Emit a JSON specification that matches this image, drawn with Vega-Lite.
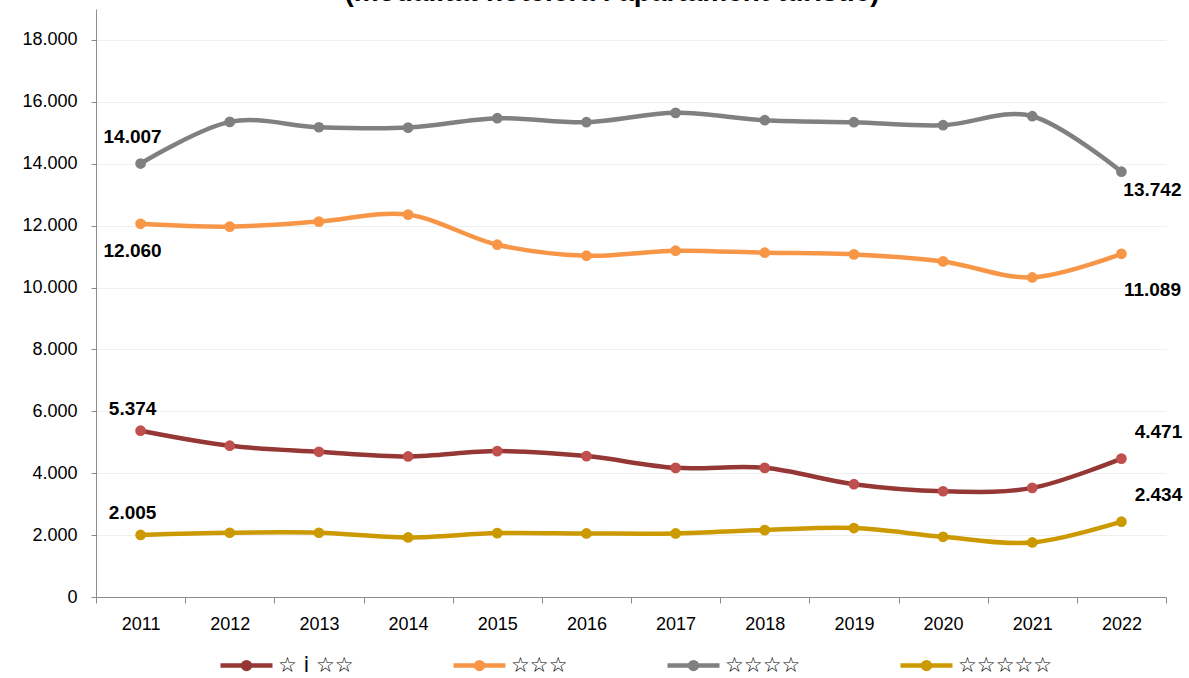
{
  "$schema": "https://vega.github.io/schema/vega-lite/v6.json",
  "width": 1070,
  "height": 588,
  "autosize": {"type": "none"},
  "padding": {"left": 96, "top": 9, "right": 23, "bottom": 81},
  "background": "white",
  "title": {
    "text": "(modalitat hotelera i apartament turístic)",
    "font": "Liberation Sans",
    "fontSize": 28,
    "fontWeight": "bold",
    "color": "#000000",
    "anchor": "middle",
    "baseline": "alphabetic",
    "offset": 4,
    "dy": 24,
    "dx": -19
  },
  "config": {
    "view": {"stroke": null},
    "locale": {"number": {"decimal": ",", "thousands": ".", "grouping": [3], "currency": ["", " €"]}}
  },
  "data": {
    "values": [
      {"year": "2011", "cat": "☆ i ☆☆", "value": 5374},
      {"year": "2012", "cat": "☆ i ☆☆", "value": 4888},
      {"year": "2013", "cat": "☆ i ☆☆", "value": 4693},
      {"year": "2014", "cat": "☆ i ☆☆", "value": 4542},
      {"year": "2015", "cat": "☆ i ☆☆", "value": 4715},
      {"year": "2016", "cat": "☆ i ☆☆", "value": 4553},
      {"year": "2017", "cat": "☆ i ☆☆", "value": 4173},
      {"year": "2018", "cat": "☆ i ☆☆", "value": 4173},
      {"year": "2019", "cat": "☆ i ☆☆", "value": 3644},
      {"year": "2020", "cat": "☆ i ☆☆", "value": 3417},
      {"year": "2021", "cat": "☆ i ☆☆", "value": 3525},
      {"year": "2022", "cat": "☆ i ☆☆", "value": 4471},
      {"year": "2011", "cat": "☆☆☆", "value": 12060},
      {"year": "2012", "cat": "☆☆☆", "value": 11968},
      {"year": "2013", "cat": "☆☆☆", "value": 12130},
      {"year": "2014", "cat": "☆☆☆", "value": 12356},
      {"year": "2015", "cat": "☆☆☆", "value": 11384},
      {"year": "2016", "cat": "☆☆☆", "value": 11028},
      {"year": "2017", "cat": "☆☆☆", "value": 11190},
      {"year": "2018", "cat": "☆☆☆", "value": 11125},
      {"year": "2019", "cat": "☆☆☆", "value": 11071},
      {"year": "2020", "cat": "☆☆☆", "value": 10844},
      {"year": "2021", "cat": "☆☆☆", "value": 10326},
      {"year": "2022", "cat": "☆☆☆", "value": 11089},
      {"year": "2011", "cat": "☆☆☆☆", "value": 14007},
      {"year": "2012", "cat": "☆☆☆☆", "value": 15352},
      {"year": "2013", "cat": "☆☆☆☆", "value": 15179},
      {"year": "2014", "cat": "☆☆☆☆", "value": 15168},
      {"year": "2015", "cat": "☆☆☆☆", "value": 15471},
      {"year": "2016", "cat": "☆☆☆☆", "value": 15341},
      {"year": "2017", "cat": "☆☆☆☆", "value": 15644},
      {"year": "2018", "cat": "☆☆☆☆", "value": 15406},
      {"year": "2019", "cat": "☆☆☆☆", "value": 15341},
      {"year": "2020", "cat": "☆☆☆☆", "value": 15244},
      {"year": "2021", "cat": "☆☆☆☆", "value": 15536},
      {"year": "2022", "cat": "☆☆☆☆", "value": 13742},
      {"year": "2011", "cat": "☆☆☆☆☆", "value": 2005},
      {"year": "2012", "cat": "☆☆☆☆☆", "value": 2076},
      {"year": "2013", "cat": "☆☆☆☆☆", "value": 2076},
      {"year": "2014", "cat": "☆☆☆☆☆", "value": 1924},
      {"year": "2015", "cat": "☆☆☆☆☆", "value": 2065},
      {"year": "2016", "cat": "☆☆☆☆☆", "value": 2054},
      {"year": "2017", "cat": "☆☆☆☆☆", "value": 2054},
      {"year": "2018", "cat": "☆☆☆☆☆", "value": 2162},
      {"year": "2019", "cat": "☆☆☆☆☆", "value": 2227},
      {"year": "2020", "cat": "☆☆☆☆☆", "value": 1946},
      {"year": "2021", "cat": "☆☆☆☆☆", "value": 1762},
      {"year": "2022", "cat": "☆☆☆☆☆", "value": 2434}
    ]
  },
  "encoding": {
    "x": {
      "field": "year",
      "type": "ordinal",
      "bandPosition": 0.5,
      "scale": {"type": "band", "paddingInner": 0, "paddingOuter": 0},
      "axis": {
        "title": null,
        "labelAngle": 0,
        "tickBand": "extent",
        "grid": false,
        "domainColor": "#8c8c8c",
        "tickColor": "#8c8c8c",
        "tickSize": 6,
        "labelPadding": 12,
        "labelFont": "Liberation Sans",
        "labelFontSize": 18,
        "labelColor": "#000000"
      }
    },
    "y": {
      "field": "value",
      "type": "quantitative",
      "scale": {"domain": [0, 19000], "nice": false},
      "axis": {
        "title": null,
        "values": [0, 2000, 4000, 6000, 8000, 10000, 12000, 14000, 16000, 18000],
        "format": ",d",
        "grid": true,
        "gridColor": "#efefef",
        "gridWidth": 1,
        "domainColor": "#8c8c8c",
        "tickColor": "#8c8c8c",
        "tickSize": 5,
        "labelPadding": 14,
        "labelFont": "Liberation Sans",
        "labelFontSize": 18,
        "labelColor": "#000000"
      }
    }
  },
  "layer": [
    {
      "mark": {"type": "line", "interpolate": "cardinal", "strokeWidth": 4.5},
      "encoding": {
        "color": {
          "field": "cat",
          "type": "nominal",
          "sort": ["☆ i ☆☆", "☆☆☆", "☆☆☆☆", "☆☆☆☆☆"],
          "scale": {
            "domain": ["☆ i ☆☆", "☆☆☆", "☆☆☆☆", "☆☆☆☆☆"],
            "range": ["#953735", "#F79646", "#808080", "#CC9900"]
          },
          "legend": {
            "title": null,
            "orient": "none",
            "legendX": 122,
            "legendY": 628,
            "direction": "horizontal",
            "columns": 4,
            "columnPadding": 90,
            "symbolType": "M-1,0L1,0M-0.13,0A0.13,0.13 0 1,0 0.13,0A0.13,0.13 0 1,0 -0.13,0Z",
            "symbolSize": 2704,
            "symbolStrokeWidth": 4.5,
            "labelOffset": 3,
            "labelFont": "DejaVu Sans",
            "labelFontSize": 21,
            "labelColor": "#000000",
            "labelLimit": 300,
            "encode": {
              "symbols": {
                "update": {
                  "fill": {"scale": "color", "field": "value"},
                  "stroke": {"scale": "color", "field": "value"},
                  "strokeWidth": {"value": 4.5}
                }
              }
            }
          }
        },
        "detail": {"field": "cat"}
      }
    },
    {
      "mark": {"type": "point", "filled": true, "opacity": 1, "size": 115, "shape": "circle"},
      "encoding": {
        "color": {
          "condition": {"test": "datum.cat === '☆ i ☆☆'", "value": "#C0504D"},
          "field": "cat",
          "type": "nominal"
        }
      }
    },
    {
      "transform": [{"filter": "datum.year === '2011' && datum.cat === '☆☆☆☆'"}],
      "mark": {"type": "text", "font": "Liberation Sans", "fontSize": 19, "fontWeight": "bold", "color": "#000000", "dx": -8, "dy": -27, "baseline": "middle"},
      "encoding": {"text": {"field": "value", "type": "quantitative", "format": ",d"}}
    },
    {
      "transform": [{"filter": "datum.year === '2011' && (datum.cat === '☆ i ☆☆' || datum.cat === '☆☆☆☆☆')"}],
      "mark": {"type": "text", "font": "Liberation Sans", "fontSize": 19, "fontWeight": "bold", "color": "#000000", "dx": -8, "dy": -22, "baseline": "middle"},
      "encoding": {"text": {"field": "value", "type": "quantitative", "format": ",d"}}
    },
    {
      "transform": [{"filter": "datum.year === '2011' && datum.cat === '☆☆☆'"}],
      "mark": {"type": "text", "font": "Liberation Sans", "fontSize": 19, "fontWeight": "bold", "color": "#000000", "dx": -8, "dy": 27, "baseline": "middle"},
      "encoding": {"text": {"field": "value", "type": "quantitative", "format": ",d"}}
    },
    {
      "transform": [{"filter": "datum.year === '2022' && datum.cat === '☆☆☆☆'"}],
      "mark": {"type": "text", "font": "Liberation Sans", "fontSize": 19, "fontWeight": "bold", "color": "#000000", "dx": 31, "dy": 18, "baseline": "middle"},
      "encoding": {"text": {"field": "value", "type": "quantitative", "format": ",d"}}
    },
    {
      "transform": [{"filter": "datum.year === '2022' && datum.cat === '☆☆☆'"}],
      "mark": {"type": "text", "font": "Liberation Sans", "fontSize": 19, "fontWeight": "bold", "color": "#000000", "dx": 31, "dy": 36, "baseline": "middle"},
      "encoding": {"text": {"field": "value", "type": "quantitative", "format": ",d"}}
    },
    {
      "transform": [{"filter": "datum.year === '2022' && (datum.cat === '☆ i ☆☆' || datum.cat === '☆☆☆☆☆')"}],
      "mark": {"type": "text", "font": "Liberation Sans", "fontSize": 19, "fontWeight": "bold", "color": "#000000", "dx": 37, "dy": -27, "baseline": "middle"},
      "encoding": {"text": {"field": "value", "type": "quantitative", "format": ",d"}}
    }
  ]
}
